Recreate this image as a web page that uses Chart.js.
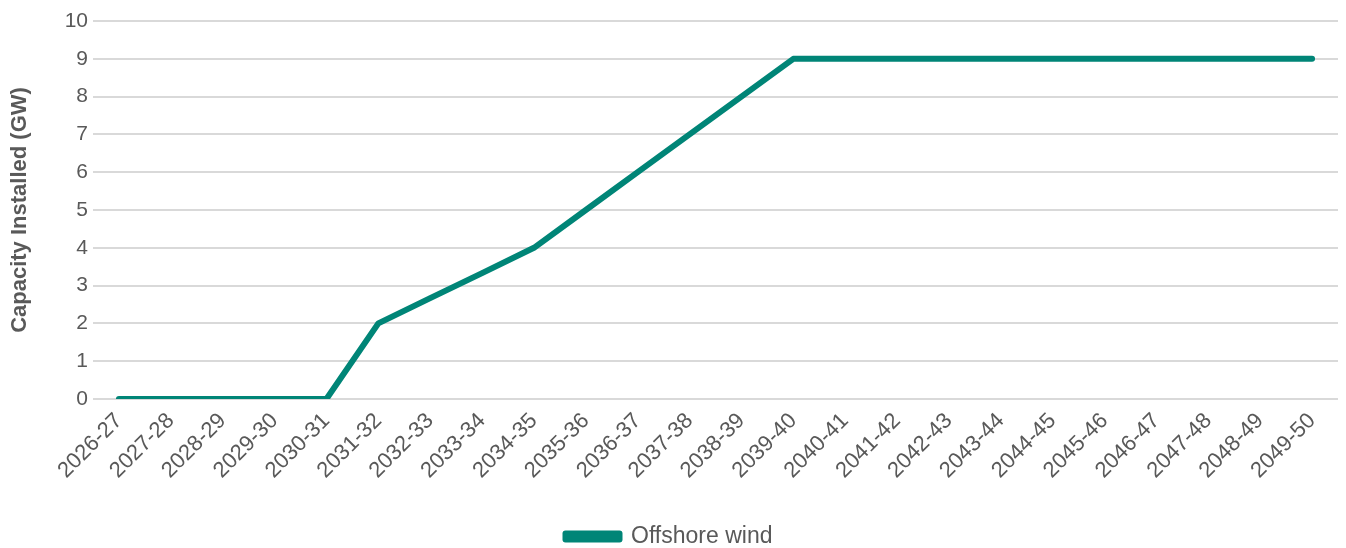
<!DOCTYPE html>
<html>
<head>
<meta charset="utf-8">
<script src="https://cdn.jsdelivr.net/npm/chart.js@4.4.1/dist/chart.umd.min.js"></script>
<style>
  html, body { margin: 0; padding: 0; background: #fff; }
  #wrap { width: 1346px; height: 548px; }
</style>
</head>
<body>
<div id="wrap"><canvas id="chart" width="1346" height="548"></canvas></div>
<script>
// categorias del eje x (años fiscales)
const years = [
  '2026-27', '2027-28', '2028-29', '2029-30', '2030-31', '2031-32',
  '2032-33', '2033-34', '2034-35', '2035-36', '2036-37', '2037-38',
  '2038-39', '2039-40', '2040-41', '2041-42', '2042-43', '2043-44',
  '2044-45', '2045-46', '2046-47', '2047-48', '2048-49', '2049-50'
];
// capacidad instalada eólica marina (GW)
const offshoreWind = [
  0, 0, 0, 0, 0, 2, 2.67, 3.33, 4, 5, 6, 7,
  8, 9, 9, 9, 9, 9, 9, 9, 9, 9, 9, 9
];
const yTicks = [0, 1, 2, 3, 4, 5, 6, 7, 8, 9, 10];

const teal = '#008577';
const grey = '#595959';
const font = 'Liberation Sans, Arial';

new Chart(document.getElementById('chart'), {
  type: 'line',
  data: {
    labels: years,
    datasets: [{
      label: 'Offshore wind',
      data: offshoreWind,
      borderColor: teal,
      backgroundColor: teal,
      borderWidth: 6,
      borderCapStyle: 'round',
      borderJoinStyle: 'round',
      pointRadius: 0,
      tension: 0,
      fill: false
    }]
  },
  options: {
    responsive: false,
    animation: false,
    layout: { padding: { top: 21, right: 8, left: 0, bottom: -10 } },
    plugins: {
      tooltip: { enabled: false },
      legend: {
        position: 'bottom',
        labels: {
          font: { family: font, size: 23 },
          color: grey,
          boxWidth: 54,
          boxHeight: 6,
          padding: 2
        }
      }
    },
    scales: {
      x: {
        offset: true,
        grid: { display: false },
        border: { display: false },
        ticks: {
          font: { family: font, size: 22 },
          color: grey,
          minRotation: 45,
          maxRotation: 45,
          autoSkip: false,
          padding: 1
        },
        afterFit: (s) => { s.height = 124; }
      },
      y: {
        min: 0,
        max: 10,
        afterBuildTicks: (s) => { s.ticks = yTicks.map(v => ({ value: v })); },
        grid: { color: '#d9d9d9', lineWidth: 2, drawTicks: false },
        border: { display: false },
        ticks: {
          font: { family: font, size: 21 },
          color: grey,
          padding: 5
        },
        title: {
          display: true,
          text: 'Capacity Installed (GW)',
          font: { family: font, size: 22, weight: 'bold' },
          color: grey,
          padding: { top: 7, bottom: 0 }
        },
        afterFit: (s) => { s.width = 93; }
      }
    }
  }
});
</script>
</body>
</html>
